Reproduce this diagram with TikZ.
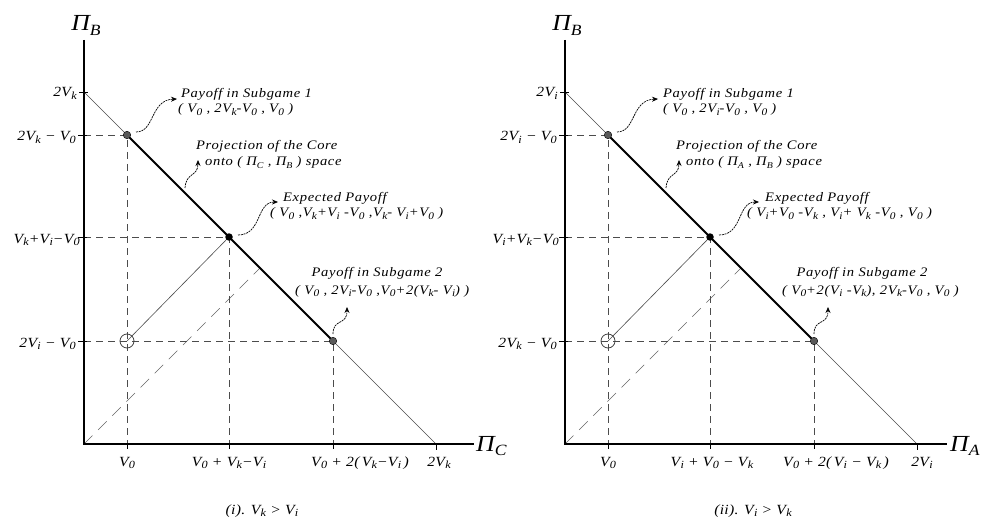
\documentclass[tikz,border=0pt]{standalone}
\usepackage{fontspec}
\usepackage{graphicx}
\setmainfont{Liberation Serif}[FakeStretch=1.12, LetterSpace=2]
\usetikzlibrary{arrows.meta}
\newcommand\Vs[1]{V\kern0.3pt\raisebox{-0.45ex}{\scalebox{0.78}{#1}}}
\newcommand\Pis[1]{Π\raisebox{-0.45ex}{\scalebox{0.68}{#1}}}
\tikzset{
  lbl/.style={font=\itshape\fontsize{14}{16}\selectfont, inner sep=0pt},
  ann/.style={font=\itshape\fontsize{13}{15}\selectfont\addfontfeatures{LetterSpace=5}, inner sep=0pt, anchor=base west},
  bigl/.style={font=\itshape\fontsize{23}{24}\selectfont, inner sep=0pt},
  axisline/.style={line width=2.6pt, line join=miter},
  core/.style={line width=1.8pt},
  thinl/.style={line width=0.6pt, black!70},
  tickl/.style={line width=0.8pt, black},
  guide/.style={dash pattern=on 7pt off 5pt, line width=0.9pt, black!70},
  diag/.style={dash pattern=on 12pt off 8pt, line width=0.6pt, black!60},
  callout/.style={-{Stealth[length=6pt,width=5pt]}, line width=0.7pt, dash pattern=on 2pt off 0.8pt},
  dotg/.style={circle, fill=black!65, draw=black, line width=0.4pt, inner sep=0pt, minimum size=7.5pt},
  dotb/.style={circle, fill=black, inner sep=0pt, minimum size=7.5pt},
  hollow/.style={circle, draw=black!75, line width=0.8pt, inner sep=0pt, minimum size=14pt},
}
\begin{document}
\begin{tikzpicture}[x=1pt, y=-1pt]
\useasboundingbox[fill=white] (0,0) rectangle (981,529);

% ================= LEFT PANEL =================
\coordinate (LO) at (84,444);
\coordinate (LYt) at (84,40);
\coordinate (LXe) at (474,444);
\coordinate (LT) at (84,92);
\coordinate (LE) at (436,444);
\coordinate (LA) at (127,135);
\coordinate (LB) at (229,237);
\coordinate (LC) at (333,341);
\coordinate (LH) at (127,341);
\coordinate (LM) at (260,268);
\coordinate (LyA) at (84,135);
\coordinate (LyB) at (84,237);
\coordinate (LyC) at (84,341);
\coordinate (LxA) at (127,444);
\coordinate (LxB) at (229,444);
\coordinate (LxC) at (333,444);

\draw[diag] (LO) -- (LM);
\draw[thinl] (LT) -- (LA);
\draw[thinl] (LC) -- (LE);
\draw[thinl] (LH) -- (LB);
\draw[guide] (LyA) -- (LA) -- (LxA);
\draw[guide] (LyB) -- (LB) -- (LxB);
\draw[guide] (LyC) -- (LC) -- (LxC);
\draw[core] (LA) -- (LC);
\draw[axisline] (LYt) -- (LO) -- (LXe);
\draw[tickl] ([xshift=-5pt]LT) -- ([xshift=4pt]LT);
\draw[tickl] ([xshift=-6pt]LyA) -- ([xshift=3pt]LyA);
\draw[tickl] ([xshift=-6pt]LyB) -- ([xshift=3pt]LyB);
\draw[tickl] ([xshift=-6pt]LyC) -- ([xshift=3pt]LyC);
\draw[tickl] (LxA) -- ([yshift=-5pt]LxA);
\draw[tickl] (LxB) -- ([yshift=-5pt]LxB);
\draw[tickl] (LxC) -- ([yshift=-5pt]LxC);
\draw[tickl] (LE) -- ([yshift=-6pt]LE);

\node[dotg] (LdA) at (LA) {};
\node[dotb] (LdB) at (LB) {};
\node[dotg] (LdC) at (LC) {};
\node[hollow] (LdH) at (LH) {};

\node[bigl, anchor=base] (LPiB) at (86,31) {\Pis{B}};
\node[bigl, anchor=base west] (LPiC) at (476,451) {\Pis{C}};

\node[lbl, anchor=base east] (LlT) at ([shift={(-7pt,-5pt)}]LT) {2\Vs{k}};
\node[lbl, anchor=base east] (LlA) at ([shift={(-8pt,-6pt)}]LyA) {2\Vs{k} − \Vs{0}};
\node[lbl, anchor=base east] (LlB) at ([shift={(-4pt,-6pt)}]LyB) {\Vs{k}+\Vs{i}−\Vs{0}};
\node[lbl, anchor=base east] (LlC) at ([shift={(-8pt,-6pt)}]LyC) {2\Vs{i} − \Vs{0}};

\node[lbl, anchor=base] (LlxA) at ([yshift=-22pt]LxA) {\Vs{0}};
\node[lbl, anchor=base] (LlxB) at ([yshift=-22pt]LxB) {\Vs{0} + \Vs{k}−\Vs{i}};
\node[lbl, anchor=base] (LlxC) at (360,466) {\Vs{0} + 2(\,\Vs{k}−\Vs{i}\,)};
\node[lbl, anchor=base] (LlxE) at (439,466) {2\Vs{k}};

\node[ann] (Ln1) at (181,98) {Payoff in Subgame 1};
\node[ann] (Ln1b) at (178,113) {( \Vs{0} , 2\Vs{k}-\Vs{0} , \Vs{0} )};
\coordinate (LnS) at (136,132);
\coordinate (LnT) at (177,99);
\draw[callout] (LnS) .. controls (155,132) and (150,100) .. (LnT);

\node[ann] (Lp1) at (196,150) {Projection of the Core};
\node[ann] (Lp2) at (205,166) {onto ( \Pis{C} , \Pis{B} ) space};
\coordinate (LpS) at (185,188);
\coordinate (LpT) at (198,160);
\draw[callout] (LpS) .. controls (186,172) and (198,177) .. (LpT);

\node[ann] (Le1) at (283,202) {Expected Payoff};
\node[ann] (Le2) at (270,217) {( \Vs{0} ,\Vs{k}+\Vs{i} -\Vs{0} ,\Vs{k}- \Vs{i}+\Vs{0} )};
\coordinate (LeS) at (238,235);
\coordinate (LeT) at (278,202);
\draw[callout] (LeS) .. controls (262,235) and (256,202) .. (LeT);

\node[ann, anchor=base] (Ls1) at (377,276) {Payoff in Subgame 2};
\node[ann] (Ls2) at (295,294) {( \Vs{0} , 2\Vs{i}-\Vs{0} ,\Vs{0}+2(\Vs{k}- \Vs{i}) )};
\coordinate (LsS) at (333,334);
\coordinate (LsT) at (347,307);
\draw[callout] (LsS) .. controls (333,318) and (347,326) .. (LsT);

\node[lbl, anchor=base] (Lcap) at (262,514) {(i). \Vs{k} > \Vs{i}};

% ================= RIGHT PANEL =================
\begin{scope}[xshift=481pt]
\coordinate (RO) at (84,444);
\coordinate (RYt) at (84,40);
\coordinate (RXe) at (466,444);
\coordinate (RT) at (84,92);
\coordinate (RE) at (436,444);
\coordinate (RA) at (127,135);
\coordinate (RB) at (229,237);
\coordinate (RC) at (333,341);
\coordinate (RH) at (127,341);
\coordinate (RM) at (260,268);
\coordinate (RyA) at (84,135);
\coordinate (RyB) at (84,237);
\coordinate (RyC) at (84,341);
\coordinate (RxA) at (127,444);
\coordinate (RxB) at (229,444);
\coordinate (RxC) at (333,444);

\draw[diag] (RO) -- (RM);
\draw[thinl] (RT) -- (RA);
\draw[thinl] (RC) -- (RE);
\draw[thinl] (RH) -- (RB);
\draw[guide] (RyA) -- (RA) -- (RxA);
\draw[guide] (RyB) -- (RB) -- (RxB);
\draw[guide] (RyC) -- (RC) -- (RxC);
\draw[core] (RA) -- (RC);
\draw[axisline] (RYt) -- (RO) -- (RXe);
\draw[tickl] ([xshift=-5pt]RT) -- ([xshift=4pt]RT);
\draw[tickl] ([xshift=-6pt]RyA) -- ([xshift=3pt]RyA);
\draw[tickl] ([xshift=-6pt]RyB) -- ([xshift=3pt]RyB);
\draw[tickl] ([xshift=-6pt]RyC) -- ([xshift=3pt]RyC);
\draw[tickl] (RxA) -- ([yshift=-5pt]RxA);
\draw[tickl] (RxB) -- ([yshift=-5pt]RxB);
\draw[tickl] (RxC) -- ([yshift=-5pt]RxC);
\draw[tickl] (RE) -- ([yshift=-6pt]RE);

\node[dotg] (RdA) at (RA) {};
\node[dotb] (RdB) at (RB) {};
\node[dotg] (RdC) at (RC) {};
\node[hollow] (RdH) at (RH) {};

\node[bigl, anchor=base] (RPiB) at (86,31) {\Pis{B}};
\node[bigl, anchor=base west] (RPiA) at (469,451) {\Pis{A}};

\node[lbl, anchor=base east] (RlT) at ([shift={(-7pt,-5pt)}]RT) {2\Vs{i}};
\node[lbl, anchor=base east] (RlA) at ([shift={(-8pt,-6pt)}]RyA) {2\Vs{i} − \Vs{0}};
\node[lbl, anchor=base east] (RlB) at ([shift={(-6pt,-6pt)}]RyB) {\Vs{i}+\Vs{k}−\Vs{0}};
\node[lbl, anchor=base east] (RlC) at ([shift={(-8pt,-6pt)}]RyC) {2\Vs{k} − \Vs{0}};

\node[lbl, anchor=base] (RlxA) at ([yshift=-22pt]RxA) {\Vs{0}};
\node[lbl, anchor=base] (RlxB) at (231,466) {\Vs{i} + \Vs{0} − \Vs{k}};
\node[lbl, anchor=base] (RlxC) at (355,466) {\Vs{0} + 2(\,\Vs{i} − \Vs{k}\,)};
\node[lbl, anchor=base] (RlxE) at (441,466) {2\Vs{i}};

\node[ann] (Rn1) at (182,98) {Payoff in Subgame 1};
\node[ann] (Rn1b) at (182,113) {( \Vs{0} , 2\Vs{i}-\Vs{0} , \Vs{0} )};
\coordinate (RnS) at (136,132);
\coordinate (RnT) at (177,99);
\draw[callout] (RnS) .. controls (155,132) and (150,100) .. (RnT);

\node[ann] (Rp1) at (195,150) {Projection of the Core};
\node[ann] (Rp2) at (205,166) {onto ( \Pis{A} , \Pis{B} ) space};
\coordinate (RpS) at (185,188);
\coordinate (RpT) at (198,160);
\draw[callout] (RpS) .. controls (186,172) and (198,177) .. (RpT);

\node[ann] (Re1) at (284,202) {Expected Payoff};
\node[ann] (Re2) at (266,217) {( \Vs{i}+\Vs{0} -\Vs{k} , \Vs{i}+ \Vs{k} -\Vs{0} , \Vs{0} )};
\coordinate (ReS) at (238,235);
\coordinate (ReT) at (278,202);
\draw[callout] (ReS) .. controls (262,235) and (256,202) .. (ReT);

\node[ann, anchor=base] (Rs1) at (381,276) {Payoff in Subgame 2};
\node[ann] (Rs2) at (301,294) {( \Vs{0}+2(\Vs{i} -\Vs{k}), 2\Vs{k}-\Vs{0} , \Vs{0} )};
\coordinate (RsS) at (333,334);
\coordinate (RsT) at (347,307);
\draw[callout] (RsS) .. controls (333,318) and (347,326) .. (RsT);

\node[lbl, anchor=base] (Rcap) at (272,514) {(ii). \Vs{i} > \Vs{k}};
\end{scope}
\end{tikzpicture}
\end{document}
